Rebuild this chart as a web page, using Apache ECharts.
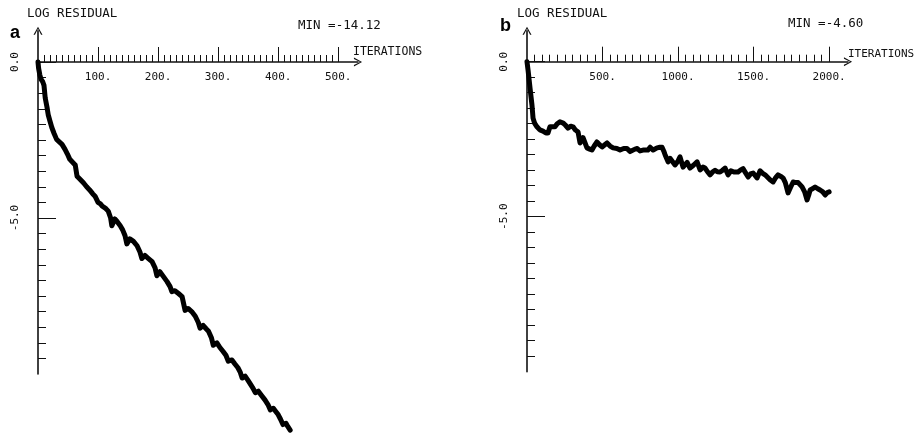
<!DOCTYPE html>
<html>
<head>
<meta charset="utf-8">
<script src="https://cdn.jsdelivr.net/npm/echarts@6/dist/echarts.min.js"></script>
<style>
html,body{margin:0;padding:0;background:#fff;}
#chart{width:921px;height:437px;}
</style>
</head>
<body>
<div id="chart"></div>
<script>
// ---- Panel a data (iterations, log residual) ----
const iterA = [0,1,3,5,8,10,12,15,17,20,23,27,31,35,40,45,49,53,58,62,65,70,76,81,86,91,95,100,104,107,112,117,121,123,128,132,137,141,145,148,153,159,165,170,173,178,184,190,195,198,203,209,215,220,223,228,234,240,245,250,256,262,267,270,275,280,284,289,292,298,303,308,313,317,323,328,333,337,340,345,349,353,358,362,367,372,378,383,387,392,396,400,404,408,413,416,420];
const logResA = [0.0,-0.2,-0.41,-0.55,-0.64,-0.75,-1.15,-1.45,-1.69,-1.9,-2.1,-2.3,-2.48,-2.55,-2.64,-2.8,-2.95,-3.12,-3.22,-3.3,-3.66,-3.76,-3.88,-4.0,-4.1,-4.22,-4.3,-4.5,-4.55,-4.62,-4.68,-4.78,-5.0,-5.25,-5.03,-5.12,-5.25,-5.38,-5.57,-5.83,-5.67,-5.75,-5.89,-6.1,-6.3,-6.2,-6.3,-6.4,-6.6,-6.85,-6.72,-6.88,-7.04,-7.2,-7.36,-7.33,-7.42,-7.52,-7.96,-7.9,-8.0,-8.15,-8.35,-8.53,-8.44,-8.55,-8.63,-8.85,-9.08,-9.0,-9.15,-9.27,-9.4,-9.59,-9.55,-9.68,-9.8,-9.95,-10.13,-10.07,-10.18,-10.3,-10.45,-10.6,-10.55,-10.68,-10.83,-10.98,-11.15,-11.1,-11.2,-11.3,-11.45,-11.62,-11.58,-11.68,-11.8];

// ---- Panel b data ----
const iterB = [0,7,20,33,40,50,66,85,106,125,139,152,165,185,200,218,240,255,271,290,305,320,338,351,371,397,415,430,445,463,480,497,515,530,550,570,595,616,640,662,682,695,715,730,748,768,781,800,815,835,848,861,880,894,905,914,934,948,960,980,1000,1013,1033,1060,1079,1100,1126,1146,1165,1179,1195,1212,1230,1245,1260,1278,1295,1311,1331,1350,1370,1397,1415,1430,1444,1464,1480,1497,1523,1543,1560,1576,1609,1629,1645,1662,1680,1695,1710,1728,1745,1762,1780,1795,1821,1838,1854,1865,1874,1890,1907,1925,1940,1958,1974,1988,2000];
const logResB = [0.0,-0.27,-0.85,-1.4,-1.82,-1.98,-2.1,-2.2,-2.24,-2.3,-2.3,-2.1,-2.04,-2.1,-2.0,-1.94,-1.98,-2.05,-2.14,-2.08,-2.1,-2.2,-2.27,-2.62,-2.45,-2.78,-2.82,-2.85,-2.72,-2.59,-2.68,-2.75,-2.68,-2.62,-2.72,-2.78,-2.8,-2.85,-2.8,-2.8,-2.9,-2.9,-2.82,-2.8,-2.88,-2.85,-2.8,-2.85,-2.76,-2.85,-2.88,-2.78,-2.76,-2.76,-2.88,-3.0,-3.23,-3.12,-3.15,-3.33,-3.2,-3.07,-3.4,-3.25,-3.43,-3.35,-3.23,-3.49,-3.4,-3.43,-3.55,-3.65,-3.55,-3.5,-3.55,-3.56,-3.5,-3.43,-3.65,-3.52,-3.56,-3.56,-3.49,-3.45,-3.56,-3.72,-3.62,-3.59,-3.75,-3.52,-3.6,-3.65,-3.81,-3.88,-3.75,-3.65,-3.7,-3.75,-3.9,-4.23,-4.05,-3.88,-3.9,-3.9,-4.04,-4.2,-4.46,-4.3,-4.14,-4.1,-4.04,-4.1,-4.14,-4.2,-4.3,-4.22,-4.2];

// ---- Tick labels ----
const xLabelsA = [100,200,300,400,500];
const xLabelsB = [500,1000,1500,2000];
const yLabels = [0,-5];
const minTitleA = 'MIN =-14.12';
const minTitleB = 'MIN =-4.60';

// minor tick positions
const minorXA = []; for (let v = 10; v <= 500; v += 10) minorXA.push(v);
const minorXB = []; for (let v = 50; v <= 2000; v += 50) minorXB.push(v);
const minorY = []; for (let k = 0; k <= 19; k++) minorY.push(-k * 0.5);

const MONO = 'DejaVu Sans Mono';
const INK = '#111';
const Y_MIN = -10, Y_MAX = 1;

function zip(xs, ys){ return xs.map((x,i)=>[x, ys[i]]); }

const arrowPath = 'path://M5,0 L10,9 L8.4,9 L5,2.2 L1.6,9 L0,9 Z';

// grid geometry
const gridA = {left:38, top:30.8, width:320, height:343.2};
const gridB = {left:527, top:30.7, width:321, height:341};
// offset that moves a bottom x axis up to the y = 0 line
function zeroOffset(g){ return -g.height * (0 - Y_MIN) / (Y_MAX - Y_MIN); }

function mainX(grid, g, max, labels){
  return {
    type:'value', gridIndex:grid, min:0, max:max, position:'bottom', offset:zeroOffset(g),
    axisLine:{show:true, onZero:false, lineStyle:{color:INK, width:1.5}, symbol:['none', arrowPath], symbolSize:[9,9]},
    axisTick:{show:true, inside:true, length:15, customValues:labels, lineStyle:{color:INK, width:1}},
    axisLabel:{show:true, customValues:labels, margin:10, color:INK, fontFamily:MONO, fontSize:11, formatter:v=>v+'.'},
    splitLine:{show:false}
  };
}
function minorX(grid, g, max, ticks){
  return {
    type:'value', gridIndex:grid, min:0, max:max, position:'bottom', offset:zeroOffset(g),
    axisLine:{show:false, onZero:false},
    axisTick:{show:true, inside:true, length:7, customValues:ticks, lineStyle:{color:INK, width:1}},
    axisLabel:{show:false}, splitLine:{show:false}
  };
}
function mainY(grid){
  return {
    type:'value', gridIndex:grid, min:Y_MIN, max:Y_MAX, position:'left',
    axisLine:{show:true, onZero:false, lineStyle:{color:INK, width:1.6}, symbol:['none', arrowPath], symbolSize:[9,9]},
    axisTick:{show:true, inside:true, length:18, customValues:yLabels, lineStyle:{color:INK, width:1}},
    axisLabel:{show:true, customValues:yLabels, rotate:90, margin:17, color:INK, fontFamily:MONO, fontSize:11, formatter:v=>v.toFixed(1)},
    splitLine:{show:false}
  };
}
function minorYAxis(grid){
  return {
    type:'value', gridIndex:grid, min:Y_MIN, max:Y_MAX, position:'left',
    axisLine:{show:false, onZero:false},
    axisTick:{show:true, inside:true, length:8, customValues:minorY, lineStyle:{color:INK, width:1}},
    axisLabel:{show:false}, splitLine:{show:false}
  };
}

const chart = echarts.init(document.getElementById('chart'), null, {renderer:'canvas'});
const option = {
  animation:false,
  backgroundColor:'#fff',
  title:[
    {text:'a', left:5, top:19, textStyle:{fontFamily:'Liberation Sans', fontWeight:'bold', fontSize:18, color:'#000'}},
    {text:'LOG RESIDUAL', left:22, top:2, textStyle:{fontFamily:MONO, fontWeight:'normal', fontSize:12.5, color:INK}},
    {text:minTitleA, left:293, top:14, textStyle:{fontFamily:MONO, fontWeight:'normal', fontSize:12.5, color:INK}},
    {text:'ITERATIONS', left:348, top:41, textStyle:{fontFamily:MONO, fontWeight:'normal', fontSize:11.5, color:INK}},
    {text:'b', left:495, top:12, textStyle:{fontFamily:'Liberation Sans', fontWeight:'bold', fontSize:18, color:'#000'}},
    {text:'LOG RESIDUAL', left:512, top:2, textStyle:{fontFamily:MONO, fontWeight:'normal', fontSize:12.5, color:INK}},
    {text:minTitleB, left:783, top:12, textStyle:{fontFamily:MONO, fontWeight:'normal', fontSize:12.5, color:INK}},
    {text:'ITERATIONS', left:843, top:44, textStyle:{fontFamily:MONO, fontWeight:'normal', fontSize:11, color:INK}}
  ],
  grid:[
    Object.assign({containLabel:false, outerBoundsMode:'none'}, gridA),
    Object.assign({containLabel:false, outerBoundsMode:'none'}, gridB)
  ],
  xAxis:[
    mainX(0, gridA, 533, xLabelsA),
    minorX(0, gridA, 533, minorXA),
    mainX(1, gridB, 2125, xLabelsB),
    minorX(1, gridB, 2125, minorXB)
  ],
  yAxis:[
    mainY(0), minorYAxis(0), mainY(1), minorYAxis(1)
  ],
  series:[
    {type:'line', xAxisIndex:0, yAxisIndex:0, data:zip(iterA, logResA), showSymbol:false, clip:false,
     lineStyle:{color:'#000', width:5, join:'round', cap:'round'}},
    {type:'line', xAxisIndex:2, yAxisIndex:2, data:zip(iterB, logResB), showSymbol:false, clip:false,
     lineStyle:{color:'#000', width:5, join:'round', cap:'round'}}
  ]
};
chart.setOption(option);
</script>
</body>
</html>
